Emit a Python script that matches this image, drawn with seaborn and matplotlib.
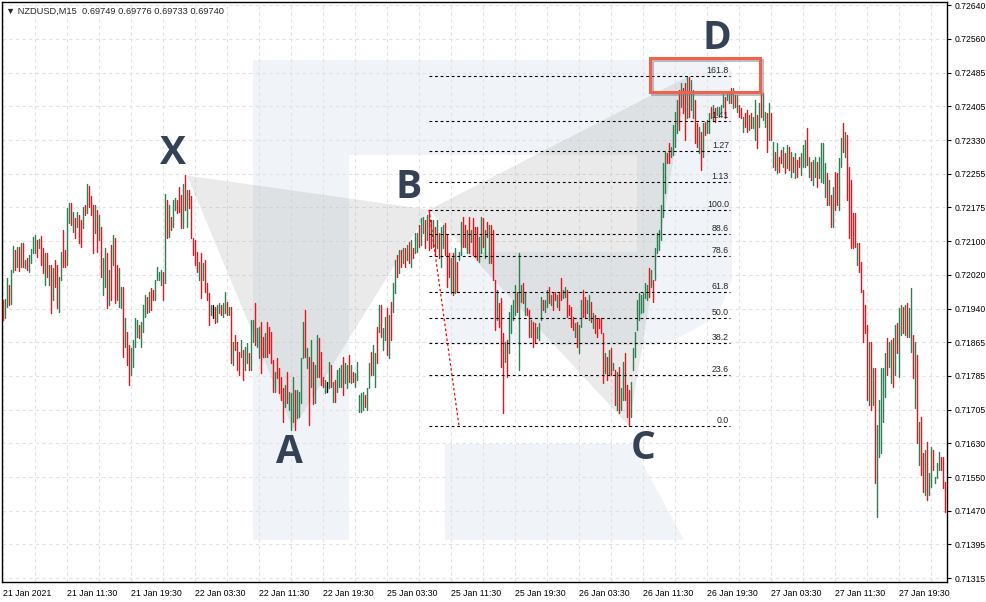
import numpy as np
import pandas as pd
import matplotlib
matplotlib.use('Agg')
import matplotlib.pyplot as plt
import matplotlib.patheffects as pe
from matplotlib.patches import Polygon, Rectangle
import seaborn as sns

# M15 bars, high / low in points (1e-5), direction g=up r=down k=doji
hi_1 = [71958, 71961, 72010, 71993, 72028, 72084, 72074, 72081, 72081, 72091,
        72091, 72051, 72056, 72063, 72077, 72104, 72109, 72098, 72100, 72107,
        72079, 72067, 72067, 72040, 72040, 72033, 72051, 72040, 72012, 72070,
        72121, 72074, 72172, 72183, 72183, 72162, 72148, 72162, 72155, 72144,
        72174, 72178, 72227, 72222, 72199, 72178, 72178, 72167, 72155, 72128,
        72056, 72079, 72067, 72028, 72086, 72109, 72102, 72040, 72033, 71989,
        71989, 71916, 71884, 71854, 71847, 71866, 71916, 71912, 71900, 71907,
        71946, 71970, 71965, 71977, 71986, 71982, 72005, 72035, 72024, 72028,
        72024, 72204, 72190, 72178, 72151, 72190, 72194, 72190, 72220, 72201,
        72227, 72248, 72213, 72213, 72199, 72102, 72098, 72070, 72047, 72067,
        72044, 72051, 71998, 71975, 71946, 71946, 71942, 71946, 71951, 71946,
        71951, 71977, 71953, 71942, 71942, 71861, 71877, 71861, 71838, 71866,
        71842, 71849, 71859, 71835, 71912, 71912, 71951, 71893, 71896, 71907,
        71872, 71882, 71907, 71896, 71884, 71819, 71792, 71824, 71801, 71780,
        71755, 71762, 71792, 71745, 71743, 71780, 71750, 71750, 71745, 71824,
        71907, 71935, 71847, 71826, 71866, 71815, 71808, 71877, 71870, 71838,
        71780, 71773, 71769, 71815]
lo_1 = [71912, 71916, 71942, 71946, 71949, 72024, 72028, 72035, 72026, 72035,
        72035, 72033, 72028, 72024, 72044, 72067, 72067, 72058, 72079, 72040,
        72021, 71993, 72012, 71993, 71928, 71958, 71989, 71940, 71930, 72005,
        72035, 72035, 72040, 72137, 72132, 72116, 72102, 72128, 72091, 72081,
        72125, 72155, 72160, 72174, 72155, 72067, 72114, 72070, 72098, 72012,
        71970, 71989, 71940, 71946, 71958, 72040, 71951, 71958, 71942, 71940,
        71826, 71849, 71808, 71762, 71785, 71803, 71849, 71872, 71870, 71849,
        71884, 71919, 71928, 71930, 71935, 71958, 71958, 72005, 72005, 71993,
        71958, 71998, 72102, 72104, 72121, 72128, 72167, 72160, 72162, 72125,
        72125, 72167, 72128, 72172, 72102, 72063, 72040, 72024, 72005, 71963,
        72005, 71977, 71958, 71900, 71923, 71916, 71905, 71907, 71928, 71923,
        71919, 71928, 71923, 71923, 71812, 71808, 71842, 71796, 71785, 71826,
        71773, 71796, 71812, 71796, 71796, 71861, 71854, 71849, 71824, 71789,
        71826, 71826, 71826, 71835, 71812, 71745, 71745, 71778, 71743, 71727,
        71676, 71711, 71720, 71704, 71658, 71676, 71658, 71685, 71688, 71720,
        71824, 71826, 71801, 71669, 71757, 71718, 71720, 71780, 71780, 71762,
        71757, 71743, 71745, 71755]
dir_1 = ("rggrggrgrg" "rgrggggrgr" "rgrgrgrrgg" "rrggrgrgrr" "grgrrrgrgr"
         "ggrgrgrrgg" "rgrrggggrg" "ggrgrrgggg" "rgrgrggrrr" "grgrrrrrgr"
         "grrrgkrggr" "ggrgrgrrrg" "rggrggrggr" "rgrrrrgrrr" "rgrgggrggg"
         "grgrgrggrr" "rgkg")

hi_2 = [71808, 71769, 71773, 71796, 71801, 71808, 71826, 71812, 71808, 71831,
        71808, 71792, 71789, 71815, 71738, 71743, 71745, 71738, 71755, 71812,
        71838, 71854, 71835, 71896, 71946, 71946, 71893, 71919, 71940, 71923,
        71953, 71998, 72051, 72063, 72074, 72074, 72079, 72079, 72086, 72093,
        72098, 72079, 72114, 72114, 72132, 72148, 72151, 72144, 72155, 72167,
        72144, 72144, 72128, 72144, 72114, 72128, 72132, 72137, 72109, 72067,
        72056, 72067, 72079, 72047, 72070, 72139, 72151, 72132, 72121, 72151,
        72121, 72148, 72128, 72128, 72104, 72151, 72148, 72121, 72139, 72132,
        72132, 72121, 72005, 71982, 71951, 71963, 71882, 71861, 71866, 71930,
        71946, 71958, 71993, 71977, 72067, 71993, 71998, 71975, 71940, 71935,
        71912, 71907, 71905, 71896, 71905, 71965, 71958, 71958, 71982, 71989,
        71970, 71977, 71977, 71970, 71977, 72010, 71982, 71989, 71982, 71946,
        71942, 71919, 71905, 71907, 71900, 71958, 71982, 71965, 71958, 71970,
        71953, 71928, 71923, 71916, 71916, 71916, 71882, 71835, 71826, 71842,
        71847, 71812, 71796, 71792, 71803, 71755, 71815, 71835, 71762, 71750,
        71769, 71847, 71884, 71958, 71975, 71970, 71975, 71998, 71993, 72033,
        72028, 72005, 72079, 72114, 72121]
lo_2 = [71757, 71722, 71722, 71745, 71757, 71757, 71738, 71766, 71755, 71769,
        71766, 71769, 71757, 71773, 71699, 71699, 71704, 71711, 71704, 71755,
        71785, 71785, 71757, 71812, 71884, 71872, 71842, 71866, 71831, 71824,
        71866, 71930, 71975, 72012, 72021, 72035, 72044, 72035, 72051, 72044,
        72035, 72056, 72067, 72070, 72081, 72086, 72114, 72079, 72098, 72074,
        72079, 72081, 72063, 72079, 72056, 72035, 72079, 72063, 71989, 72012,
        71975, 71970, 71975, 71977, 72051, 72063, 72081, 72081, 72067, 72067,
        72093, 72063, 72058, 72051, 72047, 72067, 72081, 72056, 72104, 72044,
        72044, 72005, 71889, 71912, 71896, 71803, 71697, 71815, 71780, 71835,
        71882, 71912, 71923, 71930, 71796, 71953, 71951, 71923, 71923, 71872,
        71872, 71849, 71859, 71870, 71866, 71912, 71935, 71930, 71942, 71951,
        71946, 71935, 71958, 71942, 71935, 71958, 71963, 71965, 71919, 71923,
        71896, 71889, 71872, 71849, 71835, 71896, 71919, 71916, 71928, 71912,
        71907, 71893, 71882, 71872, 71893, 71882, 71766, 71789, 71773, 71785,
        71785, 71796, 71715, 71704, 71697, 71704, 71727, 71727, 71688, 71667,
        71688, 71796, 71826, 71889, 71912, 71928, 71930, 71963, 71958, 71965,
        71989, 71953, 72005, 72067, 72074]
dir_2 = ("rgrgggrggr" "grgggggrgg" "rggrgrggrg" "rggrgrgrgr" "grggrggrgr"
         "rgrgrggrrr" "grgrggrrgr" "grrrggrgrg" "rrrgrrrgrg" "gggrggrgrr"
         "grrgggrggr" "grrgrrggrr" "rrgrggrrgg" "rgrrrrrgrg" "rgrgrggrrr"
         "gggggggggr" "grggg")

hi_3 = [72178, 72275, 72301, 72298, 72322, 72312, 72363, 72393, 72421, 72444,
        72460, 72449, 72460, 72474, 72474, 72467, 72444, 72421, 72368, 72359,
        72347, 72368, 72370, 72375, 72391, 72405, 72409, 72402, 72405, 72405,
        72409, 72437, 72428, 72439, 72437, 72449, 72449, 72432, 72432, 72409,
        72402, 72382, 72391, 72398, 72386, 72391, 72382, 72421, 72386, 72414,
        72444, 72437, 72393, 72391, 72414, 72391, 72324, 72301, 72322, 72289,
        72305, 72312, 72298, 72317, 72312, 72301, 72289, 72298, 72282, 72289,
        72298, 72317, 72328, 72356, 72289, 72278, 72282, 72289, 72278, 72289,
        72322, 72322, 72275, 72252, 72236, 72201, 72220, 72254, 72252, 72287,
        72333, 72368, 72347, 72340, 72266, 72236, 72160, 72160, 72091, 72091,
        72047, 71982, 71946, 71900, 71861, 71861, 71801, 71801, 71669, 71727,
        71801, 71801, 71835, 71870, 71861, 71866, 71870, 71900, 71905, 71940,
        71946, 71942, 71946, 71951, 71940, 71986, 71877, 71861, 71831, 71676,
        71688, 71604, 71611, 71630, 71558, 71618, 71611, 71549, 71581, 71607,
        71595, 71595, 71537]
lo_3 = [72098, 72151, 72206, 72275, 72275, 72289, 72294, 72312, 72345, 72352,
        72405, 72391, 72328, 72379, 72382, 72398, 72379, 72322, 72312, 72298,
        72259, 72289, 72340, 72345, 72345, 72379, 72375, 72370, 72386, 72382,
        72393, 72405, 72379, 72421, 72414, 72414, 72402, 72405, 72393, 72382,
        72379, 72347, 72359, 72347, 72352, 72356, 72356, 72328, 72310, 72359,
        72382, 72375, 72359, 72301, 72328, 72328, 72266, 72259, 72252, 72254,
        72275, 72266, 72252, 72264, 72259, 72243, 72254, 72241, 72243, 72266,
        72248, 72266, 72266, 72271, 72243, 72236, 72225, 72243, 72220, 72241,
        72231, 72229, 72197, 72178, 72178, 72128, 72128, 72167, 72178, 72167,
        72266, 72301, 72289, 72190, 72102, 72079, 72079, 72081, 72040, 72024,
        71977, 71861, 71882, 71727, 71715, 71704, 71715, 71535, 71457, 71595,
        71604, 71676, 71733, 71785, 71803, 71766, 71757, 71785, 71835, 71780,
        71877, 71882, 71877, 71872, 71872, 71838, 71778, 71708, 71628, 71577,
        71553, 71514, 71507, 71496, 71507, 71526, 71565, 71535, 71546, 71565,
        71565, 71523, 71468]
dir_3 = ("gggrrggggr" "grrgrggrrg" "rgrggrgrgg" "ggrggrgrgr" "rgrrgrggrg"
         "rggrgrgrgr" "rgrgrgrgrr" "gggrgrggrg" "gggrgrgrrg" "grgrrrrrgr"
         "rrrrgrgrgg" "gggrggrgrg" "grgrggrgrg" "rrgrggrggg" "rrr")

time_labels = ["21 Jan 2021", "21 Jan 11:30", "21 Jan 19:30", "22 Jan 03:30",
               "22 Jan 11:30", "22 Jan 19:30", "25 Jan 03:30", "25 Jan 11:30",
               "25 Jan 19:30", "26 Jan 03:30", "26 Jan 11:30", "26 Jan 19:30",
               "27 Jan 03:30", "27 Jan 11:30", "27 Jan 19:30"]
price_labels = ["0.72640", "0.72560", "0.72485", "0.72405", "0.72330", "0.72255",
                "0.72175", "0.72100", "0.72020", "0.71940", "0.71865", "0.71785",
                "0.71705", "0.71630", "0.71550", "0.71470", "0.71395", "0.71315"]

# Fibonacci grid drawn from C low (0) to B high (100)
fib_low, fib_high = 0.71667, 0.72167
fib_ratios = [0.0, 23.6, 38.2, 50.0, 61.8, 78.6, 88.6, 100.0, 113, 127, 141, 161.8]
fib_texts = ["0.0", "23.6", "38.2", "50.0", "61.8", "78.6", "88.6", "100.0",
             "1.13", "1.27", "1.41", "161.8"]

# XABCD pattern points (bar index, price)
pat_names = ["X", "A", "B", "C", "D"]
pat_bar = [92, 145, 213, 313, 342]
pat_price = [0.72246, 0.71660, 0.72167, 0.71667, 0.72474]

hi = np.array(hi_1 + hi_2 + hi_3) / 1e5
lo = np.array(lo_1 + lo_2 + lo_3) / 1e5
dirs = list(dir_1 + dir_2 + dir_3)
n = len(hi)

bars = pd.DataFrame({
    "bar": np.repeat(np.arange(n), 2),
    "price": np.column_stack([lo, hi]).ravel(),
    "side": np.repeat(dirs, 2),
})

sns.set_style("white")
plt.rcParams["font.family"] = ["Liberation Sans", "DejaVu Sans"]

fig = plt.figure(figsize=(9.87, 6.02), dpi=100)
ax = fig.add_axes([2 / 987, 20 / 602, 945 / 987, 580 / 602])

# faint "R" watermark (axes fraction)
def wm(pts):
    return [((x - 2) / 945, (582 - y) / 580) for x, y in pts]

wm_shapes = [
    [(253, 60), (349, 60), (349, 540), (253, 540)],
    [(349, 60), (722, 60), (732, 72), (732, 280), (722, 305), (702, 325),
     (678, 338), (655, 345), (445, 345), (445, 252), (637, 252), (637, 155),
     (349, 155)],
    [(445, 444), (632, 444), (684, 540), (445, 540)],
]
for s in wm_shapes:
    ax.add_patch(Polygon(wm(s), closed=True, transform=ax.transAxes,
                         facecolor="#f0f3f7", edgecolor="none", zorder=0.2))

# pattern triangles
pts = list(zip(pat_bar, pat_price))
for tri in (pts[0:3], pts[2:5]):
    ax.add_patch(Polygon(tri, closed=True, facecolor="#9a9a9a", alpha=0.2,
                         edgecolor="none", zorder=1))

# price bars
sns.lineplot(data=bars, x="bar", y="price", units="bar", estimator=None,
             hue="side", palette={"g": "#2f7f55", "r": "#e8141b", "k": "#000000"},
             legend=False, linewidth=1.0, sort=False, ax=ax, zorder=3)

# fibonacci levels
levels = [fib_low + r / 100 * (fib_high - fib_low) for r in fib_ratios]
x0, x1 = pat_bar[2], 363.5
ax.hlines(levels, x0, x1, colors="black", linestyles=(0, (2.5, 2.5)),
          linewidth=0.8, zorder=4)
for lv, t in zip(levels, fib_texts):
    ax.annotate(t, (363, lv), xytext=(0, 1), textcoords="offset pixels",
                ha="right", va="bottom", fontsize=6.3, zorder=5)

# red dashed base line from B down to the 0 level
ax.plot([pat_bar[2], 228], [pat_price[2], fib_low], color="#ff0000",
        ls=(0, (2, 2)), lw=0.9, zorder=4)

# highlight box around the D zone
box = Rectangle((323.5, 0.72439), 55, 0.00079, fill=False,
                edgecolor="#f1614f", linewidth=2.2, zorder=6,
                path_effects=[pe.SimpleLineShadow(offset=(1.5, -1.5),
                                                  shadow_color="gray", alpha=0.5),
                              pe.Normal()])
ax.add_patch(box)

# pattern letters
offsets = {"X": (-14, 22), "A": (-4, -24), "B": (-20, 22), "C": (14, -23), "D": (30, 38)}
for name, b, p in zip(pat_names, pat_bar, pat_price):
    ax.annotate(name, (b, p), xytext=offsets[name], textcoords="offset pixels",
                ha="center", va="center", fontsize=28, fontweight="bold",
                family=["Open Sans", "DejaVu Sans"], color="#354256", zorder=7)

# axes
ax.set_xlim(-0.5, 472)
ax.set_ylim(0.7130618, 0.7264738)
ax.set_xlabel("")
ax.set_ylabel("")

ax.set_xticks(np.arange(len(time_labels)) * 32)
ax.set_xticklabels(time_labels, fontsize=6.3, ha="left")
ax.set_xticks(np.arange(len(time_labels)) * 32 + 16, minor=True)
ytick = np.linspace(float(price_labels[0]), float(price_labels[-1]), len(price_labels))
ax.set_yticks(ytick)
ax.set_yticklabels(price_labels, fontsize=6.2)
ax.yaxis.tick_right()

ax.tick_params(axis="x", which="major", direction="out", length=3, width=0.8,
               pad=2, colors="black")
ax.tick_params(axis="x", which="minor", length=0)
ax.tick_params(axis="y", direction="out", length=3, width=0.8, pad=2.5,
               colors="black", right=True, left=False)
for lbl in ax.get_xticklabels():
    lbl.set_horizontalalignment("left")

ax.set_axisbelow(True)
ax.xaxis.grid(True, which="both", color="#e2e2e2", ls=(0, (3, 3)), lw=0.8)
ax.yaxis.grid(True, which="major", color="#e2e2e2", ls=(0, (3, 3)), lw=0.8)
for sp in ax.spines.values():
    sp.set_visible(True)
    sp.set_color("black")
    sp.set_linewidth(1.0)

fig.text(6 / 987, 1 - 11 / 602, "\u25BC NZDUSD,M15  0.69749 0.69776 0.69733 0.69740",
         fontsize=6.7, va="center", ha="left")

fig.savefig("out.png", dpi=100)
